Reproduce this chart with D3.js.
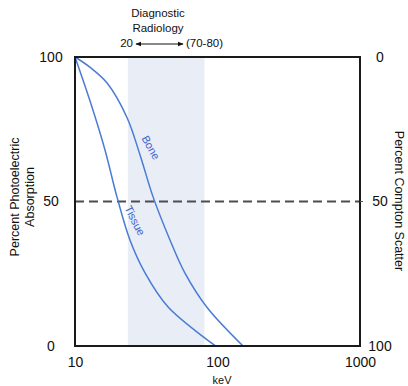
<!DOCTYPE html>
<html>
<head>
<meta charset="utf-8">
<script src="https://cdn.jsdelivr.net/npm/d3@7"></script>
<style>
  html, body { margin: 0; padding: 0; background: #fff; }
  svg { display: block; font-family: "Liberation Sans", Arial, sans-serif; }
</style>
</head>
<body>
<svg id="chart" width="408" height="386"></svg>
<script>
// Photon energy (keV) and percent photoelectric absorption for each tissue type
const tissueKeV = [10, 12.7, 16.2, 19.7, 24.3, 31, 45, 97];
const tissuePct = [100, 85, 68, 51.6, 36.7, 25.3, 13.5, 0];
const boneKeV = [10, 12.7, 16.8, 23.2, 28.6, 35.3, 46.4, 59, 84, 151];
const bonePct = [100, 96.5, 91, 79, 66.1, 51.6, 36.7, 25.3, 13.5, 0];

// Diagnostic radiology energy band (keV)
const bandRange = [23.5, 81];

// Axis ticks
const xTicks = [10, 100, 1000];
const yTicks = [0, 50, 100];

const svg = d3.select("#chart");
const plotLeft = 75, plotRight = 360, plotTop = 57, plotBottom = 346;

const x = d3.scaleLog().domain([10, 1000]).range([plotLeft, plotRight]);
const y = d3.scaleLinear().domain([0, 100]).range([plotBottom, plotTop]);
const yRight = d3.scaleLinear().domain([100, 0]).range([plotBottom, plotTop]);

// Shaded energy band
svg.append("rect")
  .attr("x", x(bandRange[0]))
  .attr("y", plotTop)
  .attr("width", x(bandRange[1]) - x(bandRange[0]))
  .attr("height", plotBottom - plotTop)
  .attr("fill", "#e8edf6");

// 50% reference line
svg.append("line")
  .attr("x1", plotLeft).attr("x2", plotRight)
  .attr("y1", y(50)).attr("y2", y(50))
  .attr("stroke", "#4d4d4d")
  .attr("stroke-width", 1.8)
  .attr("stroke-dasharray", "9,5");

// Curves
const line = d3.line()
  .x(d => x(d[0]))
  .y(d => y(d[1]))
  .curve(d3.curveCatmullRom.alpha(0.5));

const series = [
  { keV: tissueKeV, pct: tissuePct },
  { keV: boneKeV, pct: bonePct }
];
series.forEach(s => {
  svg.append("path")
    .datum(s.keV.map((k, i) => [k, s.pct[i]]))
    .attr("d", line)
    .attr("fill", "none")
    .attr("stroke", "#4a7bd6")
    .attr("stroke-width", 1.5);
});

// Curve labels
svg.append("text")
  .attr("transform", "translate(150,148) rotate(61)")
  .attr("text-anchor", "middle")
  .attr("dominant-baseline", "middle")
  .attr("font-size", 11)
  .attr("fill", "#3d65cc")
  .text("Bone");
svg.append("text")
  .attr("transform", "translate(134,221) rotate(63)")
  .attr("text-anchor", "middle")
  .attr("dominant-baseline", "middle")
  .attr("font-size", 11)
  .attr("fill", "#3d65cc")
  .text("Tissue");

// Frame
svg.append("rect")
  .attr("x", plotLeft).attr("y", plotTop)
  .attr("width", plotRight - plotLeft).attr("height", plotBottom - plotTop)
  .attr("fill", "none")
  .attr("stroke", "#1a1a1a")
  .attr("stroke-width", 2);

// Axes
const xAxis = svg.append("g")
  .attr("transform", `translate(0,${plotBottom})`)
  .call(d3.axisBottom(x).tickValues(xTicks).tickSize(0).tickPadding(11)
    .tickFormat(d3.format("d")));
const yAxisL = svg.append("g")
  .attr("transform", `translate(${plotLeft},0)`)
  .call(d3.axisLeft(y).tickValues(yTicks).tickSize(0).tickPadding(24));
const yAxisR = svg.append("g")
  .attr("transform", `translate(${plotRight},0)`)
  .call(d3.axisRight(yRight).tickValues(yTicks).tickSize(0).tickPadding(20));

[xAxis, yAxisL, yAxisR].forEach(g => {
  g.select(".domain").remove();
  g.selectAll("text")
    .attr("font-size", 14)
    .attr("fill", "#111")
    .style("font-family", "'Liberation Sans', Arial, sans-serif");
});
yAxisL.selectAll("text").attr("text-anchor", "middle");
yAxisR.selectAll("text").attr("text-anchor", "middle");

// Small tick at 50 on the right frame
svg.append("line")
  .attr("x1", plotRight).attr("x2", plotRight + 3)
  .attr("y1", yRight(50)).attr("y2", yRight(50))
  .attr("stroke", "#555").attr("stroke-width", 1);

// Axis titles
svg.append("text")
  .attr("x", 222).attr("y", 381)
  .attr("text-anchor", "middle")
  .attr("dominant-baseline", "middle")
  .attr("font-size", 11)
  .attr("fill", "#111")
  .text("keV");

const leftTitle = svg.append("text")
  .attr("transform", "translate(15,197) rotate(-90)")
  .attr("text-anchor", "middle")
  .attr("font-size", 12.5)
  .attr("fill", "#111");
leftTitle.append("tspan").attr("x", 0).attr("dy", "0.35em").text("Percent Photoelectric");
leftTitle.append("tspan").attr("x", 0).attr("dy", "1.2em").text("Absorption");

svg.append("text")
  .attr("transform", "translate(398,201) rotate(90)")
  .attr("text-anchor", "middle")
  .attr("dominant-baseline", "middle")
  .attr("font-size", 12.5)
  .attr("fill", "#111")
  .text("Percent Compton Scatter");

// Band annotation
svg.append("text")
  .attr("x", 158).attr("y", 14)
  .attr("text-anchor", "middle")
  .attr("dominant-baseline", "middle")
  .attr("font-size", 11.5)
  .attr("fill", "#111")
  .text("Diagnostic");
svg.append("text")
  .attr("x", 158).attr("y", 29)
  .attr("text-anchor", "middle")
  .attr("dominant-baseline", "middle")
  .attr("font-size", 11.5)
  .attr("fill", "#111")
  .text("Radiology");
svg.append("text")
  .attr("x", 133).attr("y", 44)
  .attr("text-anchor", "end")
  .attr("dominant-baseline", "middle")
  .attr("font-size", 11.5)
  .attr("fill", "#111")
  .text("20");
svg.append("text")
  .attr("x", 186).attr("y", 44)
  .attr("text-anchor", "start")
  .attr("dominant-baseline", "middle")
  .attr("font-size", 11.5)
  .attr("fill", "#111")
  .text("(70-80)");

const defs = svg.append("defs");
defs.append("marker")
  .attr("id", "head")
  .attr("viewBox", "0 0 10 10")
  .attr("refX", 9).attr("refY", 5)
  .attr("markerWidth", 6).attr("markerHeight", 6)
  .attr("orient", "auto-start-reverse")
  .append("path")
  .attr("d", "M0,1 L10,5 L0,9 Z")
  .attr("fill", "#111");
svg.append("line")
  .attr("x1", 136).attr("x2", 183)
  .attr("y1", 44).attr("y2", 44)
  .attr("stroke", "#111").attr("stroke-width", 1)
  .attr("marker-start", "url(#head)")
  .attr("marker-end", "url(#head)");
</script>
</body>
</html>
